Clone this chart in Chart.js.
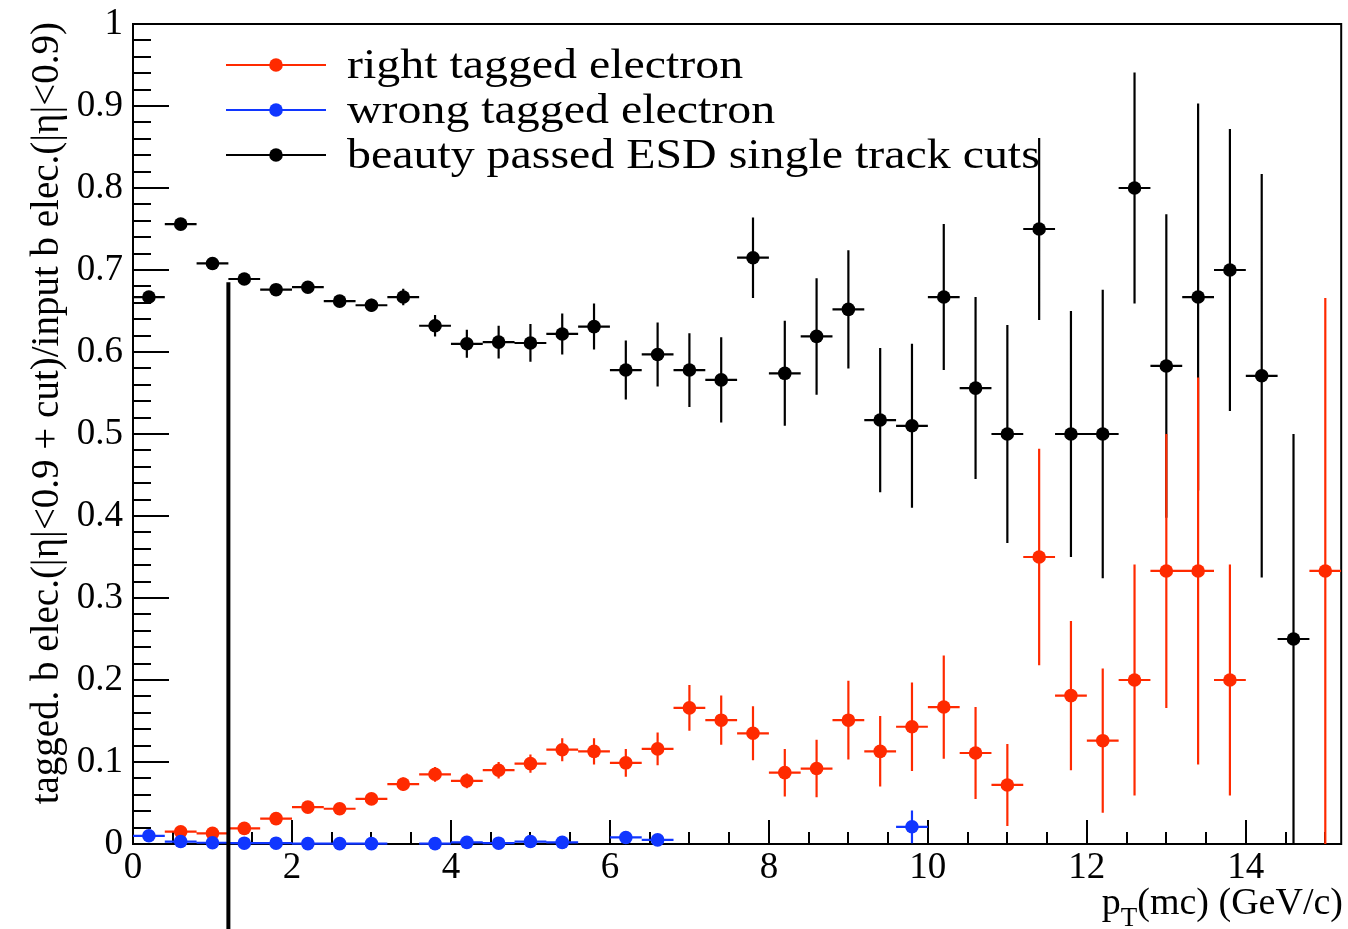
<!DOCTYPE html>
<html><head><meta charset="utf-8">
<script src="https://cdn.jsdelivr.net/npm/chart.js@4.4.1/dist/chart.umd.min.js"></script>
<style>html,body{margin:0;padding:0;background:#fff;overflow:hidden}canvas{display:block}</style>
</head><body>
<canvas id="c" width="1348" height="929"></canvas>
<script>
// ---- data ----
const binCenters = [0.2,0.6,1.0,1.4,1.8,2.2,2.6,3.0,3.4,3.8,4.2,4.6,5.0,5.4,5.8,6.2,6.6,7.0,7.4,7.8,
  8.2,8.6,9.0,9.4,9.8,10.2,10.6,11.0,11.4,11.8,12.2,12.6,13.0,13.4,13.8,14.2,14.6,15.0];
const binHalfWidth = 0.2;

const rightTagged = [null,0.015,0.013,0.019,0.031,0.045,0.043,0.055,0.073,0.085,0.077,0.090,0.098,0.115,0.113,0.099,0.116,0.166,0.151,0.135,
  0.087,0.092,0.151,0.113,0.143,0.167,0.111,0.072,0.350,0.181,0.126,0.200,0.333,0.333,0.200,null,null,0.333];
const rightTaggedErr = [null,0.003,0.003,0.004,0.005,0.006,0.006,0.007,0.008,0.009,0.009,0.010,0.011,0.014,0.016,0.017,0.020,0.028,0.030,0.033,
  0.029,0.035,0.048,0.043,0.054,0.063,0.056,0.050,0.132,0.091,0.088,0.141,0.167,0.236,0.141,null,null,0.333];

const wrongTagged = [0.010,0.003,0.0015,0.001,0.001,0.0005,0.0005,0.0005,null,0.0005,0.002,0.001,0.003,0.002,null,0.008,0.005,null,null,null,
  null,null,null,null,0.021,null,null,null,null,null,null,null,null,null,null,null,null,null];
const wrongTaggedErr = [0.002,0.001,0.001,0.001,0.001,0.0005,0.0005,0.0005,null,0.0005,0.002,0.001,0.002,0.002,null,0.004,0.003,null,null,null,
  null,null,null,null,0.020,null,null,null,null,null,null,null,null,null,null,null,null,null];

const beautyPassed = [0.667,0.756,0.708,0.689,0.676,0.679,0.662,0.657,0.667,0.632,0.610,0.612,0.611,0.622,0.631,0.578,0.597,0.578,0.566,0.715,
  0.574,0.619,0.652,0.517,0.510,0.667,0.556,0.500,0.750,0.500,0.500,0.800,0.583,0.667,0.700,0.571,0.250,null];
const beautyPassedErr = [0.005,0.004,0.005,0.005,0.006,0.006,0.007,0.008,0.010,0.013,0.017,0.020,0.023,0.025,0.028,0.036,0.039,0.045,0.052,0.049,
  0.064,0.071,0.072,0.088,0.100,0.089,0.111,0.133,0.111,0.150,0.176,0.141,0.185,0.236,0.172,0.246,0.250,null];

const seriesNames = ['right tagged electron','wrong tagged electron','beauty passed ESD single track cuts'];
const seriesColors = ['#ff2a00','#1036ff','#000000'];

const xTickValues = [0,2,4,6,8,10,12,14];
const xTickLabels = ['0','2','4','6','8','10','12','14'];
const yTickValues = [0,0.1,0.2,0.3,0.4,0.5,0.6,0.7,0.8,0.9,1];
const yTickLabels = ['0','0.1','0.2','0.3','0.4','0.5','0.6','0.7','0.8','0.9','1'];

const cutLineX = [1.2, 1.2];
const cutLineY = [-0.12, 0.685];

const yTitle = 'tagged. b elec.(|\u03B7|<0.9 + cut)/input b elec.(|\u03B7|<0.9)';
const xTitleMain = 'p';
const xTitleSub = 'T';
const xTitleRest = '(mc) (GeV/c)';

// ---- build datasets ----
function pts(vals) {
  const out = [];
  binCenters.forEach((x, i) => { if (vals[i] !== null) out.push({x: x, y: vals[i]}); });
  return out;
}
function errs(vals, e) {
  const out = [];
  binCenters.forEach((x, i) => { if (vals[i] !== null) out.push(e[i]); });
  return out;
}
const FONT = "'Liberation Serif', 'Times New Roman', serif";

function seriesDataset(label, vals, e, color) {
  return {
    label: label, data: pts(vals), errors: errs(vals, e),
    borderColor: color, backgroundColor: color,
    pointBackgroundColor: color, pointBorderWidth: 0, pointRadius: 6.8, pointHoverRadius: 6.8,
    showLine: false, clip: 10
  };
}

const datasets = [
  { label: 'cut', data: cutLineX.map((x, i) => ({x: x, y: cutLineY[i]})), showLine: true,
    borderColor: '#000', borderWidth: 4, pointRadius: 0, clip: false, isCut: true },
  seriesDataset(seriesNames[1], wrongTagged, wrongTaggedErr, seriesColors[1]),
  seriesDataset(seriesNames[0], rightTagged, rightTaggedErr, seriesColors[0]),
  seriesDataset(seriesNames[2], beautyPassed, beautyPassedErr, seriesColors[2])
];

const rootStyle = {
  id: 'rootStyle',
  beforeDatasetsDraw(chart) {
    const {ctx, chartArea: a, scales: {x, y}} = chart;
    ctx.save();
    ctx.strokeStyle = '#000';
    ctx.lineWidth = 2;
    ctx.strokeRect(a.left, a.top, a.right - a.left, a.bottom - a.top);
    ctx.beginPath();
    for (let k = 0; k <= 50; k++) {
      const py = Math.round(y.getPixelForValue(k * 0.02));
      const len = (k % 5 === 0) ? 36 : 18;
      ctx.moveTo(a.left, py); ctx.lineTo(a.left + len, py);
    }
    for (let k = 0; k <= 30; k++) {
      const px = Math.round(x.getPixelForValue(k * 0.5));
      const len = (k % 4 === 0) ? 24 : 12;
      ctx.moveTo(px, a.bottom); ctx.lineTo(px, a.bottom - len);
    }
    ctx.stroke();
    ctx.restore();
  },
  beforeDatasetDraw(chart, args) {
    const ds = chart.data.datasets[args.index];
    if (!ds.errors) return;
    const {ctx, chartArea: a, scales: {x, y}} = chart;
    ctx.save();
    ctx.beginPath();
    ctx.rect(a.left, a.top, a.right - a.left, a.bottom - a.top + 1);
    ctx.clip();
    ctx.strokeStyle = ds.borderColor;
    ctx.lineWidth = 2.2;
    ctx.beginPath();
    ds.data.forEach((p, i) => {
      const px = x.getPixelForValue(p.x), py = y.getPixelForValue(p.y);
      ctx.moveTo(x.getPixelForValue(p.x - binHalfWidth), py);
      ctx.lineTo(x.getPixelForValue(p.x + binHalfWidth), py);
      const e = ds.errors[i];
      if (e) {
        ctx.moveTo(px, y.getPixelForValue(p.y - e));
        ctx.lineTo(px, y.getPixelForValue(p.y + e));
      }
    });
    ctx.stroke();
    ctx.restore();
  },
  afterDraw(chart) {
    const {ctx} = chart;
    ctx.save();
    // legend
    const rows = [65, 110, 155];
    seriesNames.forEach((name, i) => {
      const cy = rows[i];
      ctx.strokeStyle = seriesColors[i];
      ctx.fillStyle = seriesColors[i];
      ctx.lineWidth = 2;
      ctx.beginPath(); ctx.moveTo(226, cy); ctx.lineTo(326, cy); ctx.stroke();
      ctx.beginPath(); ctx.arc(276, cy, 6.8, 0, Math.PI * 2); ctx.fill();
      ctx.fillStyle = '#000';
      ctx.font = '42px ' + FONT;
      ctx.textAlign = 'left'; ctx.textBaseline = 'alphabetic';
      ctx.save();
      ctx.translate(347, cy + 12.5);
      ctx.scale(1.14, 1);
      ctx.fillText(name, 0, 0);
      ctx.restore();
    });
    // y title
    ctx.fillStyle = '#000';
    ctx.save();
    ctx.translate(58, 22);
    ctx.rotate(-Math.PI / 2);
    ctx.font = '39px ' + FONT;
    ctx.textAlign = 'right'; ctx.textBaseline = 'alphabetic';
    ctx.fillText(yTitle, 0, 0);
    ctx.restore();
    // x title, right aligned
    ctx.font = '38px ' + FONT;
    const wRest = ctx.measureText(xTitleRest).width;
    const wMain = ctx.measureText(xTitleMain).width;
    ctx.font = '27px ' + FONT;
    const wSub = ctx.measureText(xTitleSub).width;
    const right = 1343, base = 914;
    ctx.textAlign = 'left';
    ctx.font = '38px ' + FONT;
    ctx.fillText(xTitleRest, right - wRest, base);
    ctx.fillText(xTitleMain, right - wRest - wSub - wMain, base);
    ctx.font = '27px ' + FONT;
    ctx.fillText(xTitleSub, right - wRest - wSub, base + 12);
    ctx.restore();
  }
};

new Chart(document.getElementById('c'), {
  type: 'scatter',
  data: { datasets: datasets },
  options: {
    responsive: false,
    animation: false,
    events: [],
    devicePixelRatio: 1,
    layout: { padding: { left: 0, top: 24, right: 2, bottom: 0 } },
    plugins: { legend: { display: false }, tooltip: { enabled: false } },
    scales: {
      x: {
        type: 'linear', min: 0, max: 15.2,
        grid: { display: false, drawTicks: false },
        border: { display: false },
        afterBuildTicks: (s) => { s.ticks = xTickValues.map(v => ({value: v})); },
        afterFit: (s) => { s.height = 85; s.paddingLeft = 0; s.paddingRight = 0; },
        ticks: {
          autoSkip: false, maxRotation: 0, padding: 2, color: '#000',
          font: { family: FONT, size: 37 },
          callback: (v) => xTickLabels[xTickValues.indexOf(v)]
        }
      },
      y: {
        type: 'linear', min: 0, max: 1,
        grid: { display: false, drawTicks: false },
        border: { display: false },
        afterBuildTicks: (s) => { s.ticks = yTickValues.map(v => ({value: v})); },
        afterFit: (s) => { s.width = 133; s.paddingTop = 0; s.paddingBottom = 0; },
        ticks: {
          autoSkip: false, padding: 10, color: '#000',
          font: { family: FONT, size: 37 },
          callback: (v) => yTickLabels[yTickValues.findIndex(t => Math.abs(t - v) < 1e-9)]
        }
      }
    }
  },
  plugins: [rootStyle]
});
</script>
</body></html>
